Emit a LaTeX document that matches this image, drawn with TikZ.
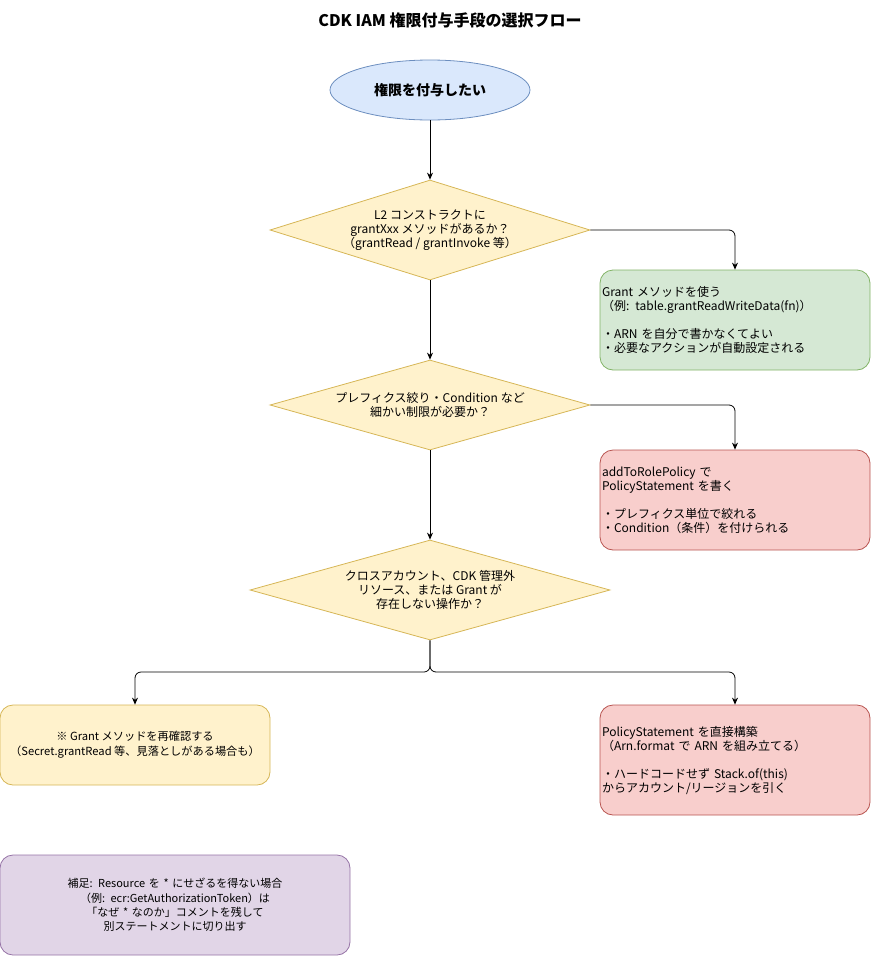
\documentclass[tikz,border=0pt]{standalone}
\usepackage{fontspec}
\setmainfont{Noto Sans CJK JP}
\usetikzlibrary{shapes.geometric,arrows.meta}

\definecolor{bluefill}{HTML}{DAE8FC}\definecolor{bluedraw}{HTML}{6C8EBF}
\definecolor{yelfill}{HTML}{FFF2CC}\definecolor{yeldraw}{HTML}{D6B656}
\definecolor{grnfill}{HTML}{D5E8D4}\definecolor{grndraw}{HTML}{82B366}
\definecolor{redfill}{HTML}{F8CECC}\definecolor{reddraw}{HTML}{B85450}
\definecolor{purfill}{HTML}{E1D5E7}\definecolor{purdraw}{HTML}{9673A6}

\begin{document}
\begin{tikzpicture}[x=1pt,y=-1pt,
  every node/.style={font=\fontsize{12}{14}\selectfont, line width=0.8pt},
  startnode/.style={ellipse, draw=bluedraw, fill=bluefill, minimum width=200pt,
    minimum height=60pt, inner sep=0pt, font=\fontsize{14}{16}\selectfont\bfseries},
  decision/.style={diamond, draw=yeldraw, fill=yelfill, inner sep=0pt, align=center},
  roundbox/.style={rectangle, rounded corners=13pt, inner xsep=2pt, inner ysep=0pt,
    minimum width=270pt},
  arr/.style={-{Stealth[length=7pt,width=6pt]}, line width=0.8pt, rounded corners=6pt}
]
\useasboundingbox (0,0) rectangle (871,956);

% title
\node[font=\fontsize{16}{18}\selectfont\bfseries] (title) at (450,20)
  {CDK IAM 権限付与手段の選択フロー};

% start
\node[startnode] (start) at (430,90) {権限を付与したい};

% decisions
\node[decision, minimum width=320pt, minimum height=100pt, aspect=3.2] (d1) at (430,230)
  {L2 コンストラクトに\\grantXxx メソッドがあるか？\\（grantRead / grantInvoke 等）};
\node[decision, minimum width=320pt, minimum height=90pt, aspect=3.5] (d2) at (430,405)
  {プレフィクス絞り・Condition など\\細かい制限が必要か？};
\node[decision, minimum width=360pt, minimum height=100pt, aspect=3.6] (d3) at (430,590)
  {クロスアカウント、CDK 管理外\\リソース、または Grant が\\存在しない操作か？};

% outcome boxes
\node[roundbox, draw=grndraw, fill=grnfill, minimum height=100pt, text width=266pt,
  align=left] (grant) at (735,320)
  {Grant メソッドを使う\\（例: table.grantReadWriteData(fn)）\\[14pt]
   ・ARN を自分で書かなくてよい\\・必要なアクションが自動設定される};
\node[roundbox, draw=reddraw, fill=redfill, minimum height=100pt, text width=266pt,
  align=left] (policy) at (735,500)
  {addToRolePolicy で\\PolicyStatement を書く\\[14pt]
   ・プレフィクス単位で絞れる\\・Condition（条件）を付けられる};
\node[roundbox, draw=yeldraw, fill=yelfill, minimum height=80pt, align=center,
  font=\fontsize{11.2}{15}\selectfont] (recheck) at (135,745)
  {※ Grant メソッドを再確認する\\（Secret.grantRead 等、見落としがある場合も）};
\node[roundbox, draw=reddraw, fill=redfill, minimum height=110pt, text width=266pt,
  align=left] (direct) at (735,760)
  {PolicyStatement を直接構築\\（Arn.format で ARN を組み立てる）\\[14pt]
   ・ハードコードせず Stack.of(this)\\からアカウント/リージョンを引く};

% note
\node[roundbox, draw=purdraw, fill=purfill, minimum width=350pt, minimum height=100pt,
  text width=346pt, align=center, font=\fontsize{11}{14.3}\selectfont] (note) at (175,905)
  {補足: Resource を * にせざるを得ない場合\\（例: ecr:GetAuthorizationToken）は\\
   「なぜ * なのか」コメントを残して\\別ステートメントに切り出す};

% connectors
\draw[arr] (start) -- (d1);
\draw[arr] (d1.east) -| (grant.north);
\draw[arr] (d1) -- (d2);
\draw[arr] (d2.east) -| (policy.north);
\draw[arr] (d2) -- (d3);
\coordinate (split) at (430,672);
\draw[arr] (d3.south) -- (split) -| (recheck.north);
\draw[arr] (d3.south) -- (split) -| (direct.north);
\end{tikzpicture}
\end{document}
